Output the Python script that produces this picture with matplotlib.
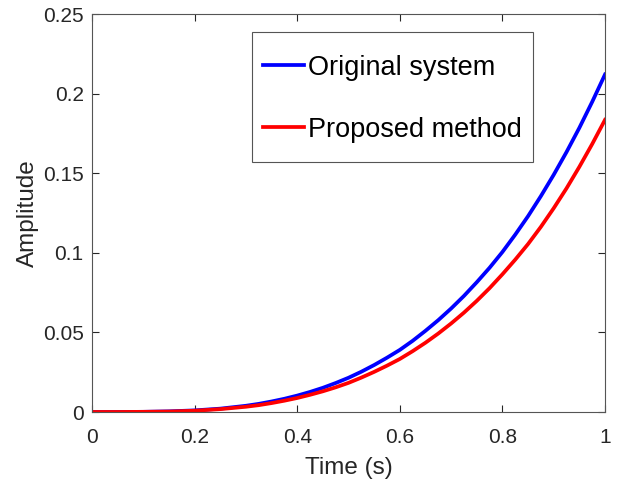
import matplotlib
matplotlib.use("Agg")
import matplotlib.pyplot as plt
from matplotlib.patches import Rectangle

plt.rcParams['font.family'] = ['Liberation Sans', 'DejaVu Sans']

time_s = [0.0, 0.05, 0.1, 0.15, 0.2, 0.25, 0.3, 0.325, 0.35, 0.375, 0.4,
          0.425, 0.45, 0.475, 0.5, 0.525, 0.55, 0.575, 0.6, 0.625, 0.65,
          0.675, 0.7, 0.725, 0.75, 0.775, 0.8, 0.825, 0.85, 0.875, 0.9,
          0.925, 0.95, 0.975, 1.0]
original_system = [0.0, 0.0, 0.0001, 0.0004, 0.0010, 0.0021, 0.0039, 0.0051,
                   0.0066, 0.0083, 0.0103, 0.0126, 0.0152, 0.0182, 0.0215,
                   0.0253, 0.0295, 0.0341, 0.0390, 0.0447, 0.0510, 0.0577,
                   0.0650, 0.0729, 0.0815, 0.0906, 0.1005, 0.1114, 0.1230,
                   0.1356, 0.1490, 0.1633, 0.1785, 0.1948, 0.2120]
proposed_method = [0.0, 0.0, 0.0001, 0.0003, 0.0008, 0.0018, 0.0033, 0.0043,
                   0.0056, 0.0071, 0.0088, 0.0108, 0.0130, 0.0155, 0.0183,
                   0.0216, 0.0252, 0.0291, 0.0333, 0.0382, 0.0435, 0.0493,
                   0.0556, 0.0624, 0.0698, 0.0778, 0.0865, 0.0957, 0.1055,
                   0.1163, 0.1280, 0.1405, 0.1540, 0.1683, 0.1835]
x_ticks = [0, 0.2, 0.4, 0.6, 0.8, 1.0]
x_tick_labels = ['0', '0.2', '0.4', '0.6', '0.8', '1']
y_ticks = [0, 0.05, 0.1, 0.15, 0.2, 0.25]
y_tick_labels = ['0', '0.05', '0.1', '0.15', '0.2', '0.25']

W, H = 618, 486
AX_L, AX_B, AX_W, AX_H = 92, 74, 513, 398

fig = plt.figure(figsize=(W/100, H/100), dpi=100)
ax = fig.add_axes([AX_L/W, AX_B/H, AX_W/W, AX_H/H])

ax.plot(time_s, original_system, color=(0, 0, 1), lw=2.7,
        solid_joinstyle='round', label='Original system')
ax.plot(time_s, proposed_method, color=(1, 0, 0), lw=2.7,
        solid_joinstyle='round', label='Proposed method')

ax.set_xlim(0, 1)
ax.set_ylim(0, 0.25)
axis_col = '#262626'
ax.set_xticks(x_ticks)
ax.set_xticklabels(x_tick_labels)
ax.set_yticks(y_ticks)
ax.set_yticklabels(y_tick_labels)
ax.tick_params(direction='in', top=True, right=True, length=5, width=0.8,
               colors=axis_col, labelsize=15)
ax.tick_params(axis='x', pad=11.5)
ax.tick_params(axis='y', pad=6)
for s in ax.spines.values():
    s.set_color('#555555')
    s.set_linewidth(0.8)

ax.set_xlabel('Time (s)', fontsize=17.5, color=axis_col, labelpad=7)
ax.set_ylabel('Amplitude', fontsize=17.5, color=axis_col, labelpad=3)

# legend box (pixel coordinates measured from the top-left of the figure)
box_x0, box_x1, box_y0, box_y1 = 251.7, 532.7, 31.7, 161.7
def to_axes(px, py):
    return (px - AX_L) / AX_W, (H - py - AX_B) / AX_H
bx0, by1 = to_axes(box_x0, box_y0)
bx1, by0 = to_axes(box_x1, box_y1)
ax.add_patch(Rectangle((bx0, by0), bx1 - bx0, by1 - by0, transform=ax.transAxes,
                       facecolor='white', edgecolor='#555555', lw=0.8,
                       zorder=4, clip_on=False))
cx, cy = to_axes((box_x0 + box_x1) / 2, (box_y0 + box_y1) / 2 + 2)
leg = ax.legend(loc='center', bbox_to_anchor=(cx, cy),
                fontsize=19.5, frameon=False, handlelength=1.5,
                handletextpad=0.15, labelspacing=1.32, borderpad=0.0,
                borderaxespad=0)
leg.set_zorder(5)
for t in leg.get_texts():
    t.set_color('black')

fig.savefig('out.png', dpi=100)
